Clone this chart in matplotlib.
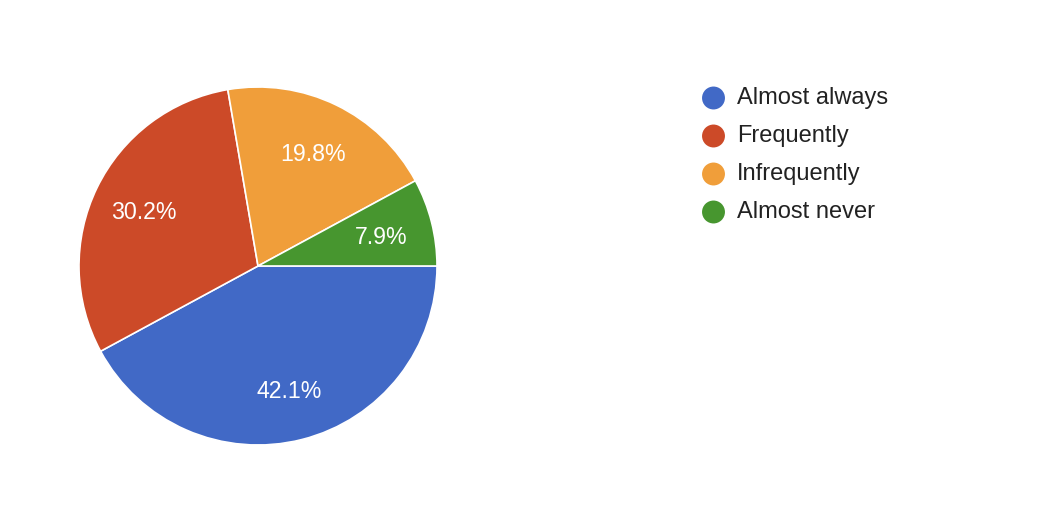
import matplotlib
matplotlib.use("Agg")
import matplotlib.pyplot as plt
import matplotlib.transforms as mtransforms

labels = ["Almost always", "Frequently", "Infrequently", "Almost never"]
values = [42.1, 30.2, 19.8, 7.9]
colors = ["#4169c6", "#cc4a28", "#f09e3a", "#47962f"]

plt.rcParams['font.family'] = ['Liberation Sans', 'DejaVu Sans']

W, H = 1050, 514
fig = plt.figure(figsize=(W / 100, H / 100), dpi=100)
fig.patch.set_facecolor("white")

cx, cy, r = 258, 266, 179
ax = fig.add_axes([(cx - r) / W, (H - cy - r) / H, 2 * r / W, 2 * r / H])
wedges, texts, autotexts = ax.pie(
    values, colors=colors, startangle=0, counterclock=False,
    autopct="%.1f%%", pctdistance=0.71,
    wedgeprops=dict(edgecolor="white", linewidth=1.2),
    textprops=dict(color="white", fontsize=16.7),
)
for t in autotexts:
    t.set_transform(mtransforms.offset_copy(ax.transData, fig=fig, x=0, y=-2.5, units="dots"))
ax.set_xlim(-1, 1)
ax.set_ylim(-1, 1)
ax.set_aspect("equal")
ax.axis("off")

# legend
lax = fig.add_axes([0, 0, 1, 1])
lax.set_xlim(0, W)
lax.set_ylim(H, 0)
lax.axis("off")
y0, dy = 98, 38
for i, (lab, col) in enumerate(zip(labels, colors)):
    y = y0 + i * dy
    lax.scatter([713.5], [y], s=(16.5) ** 2, color=col, edgecolors="none")
    lax.text(737, y, lab, fontsize=17, color="#222222", va="center", ha="left")

fig.savefig("out.png", dpi=100, facecolor="white")
